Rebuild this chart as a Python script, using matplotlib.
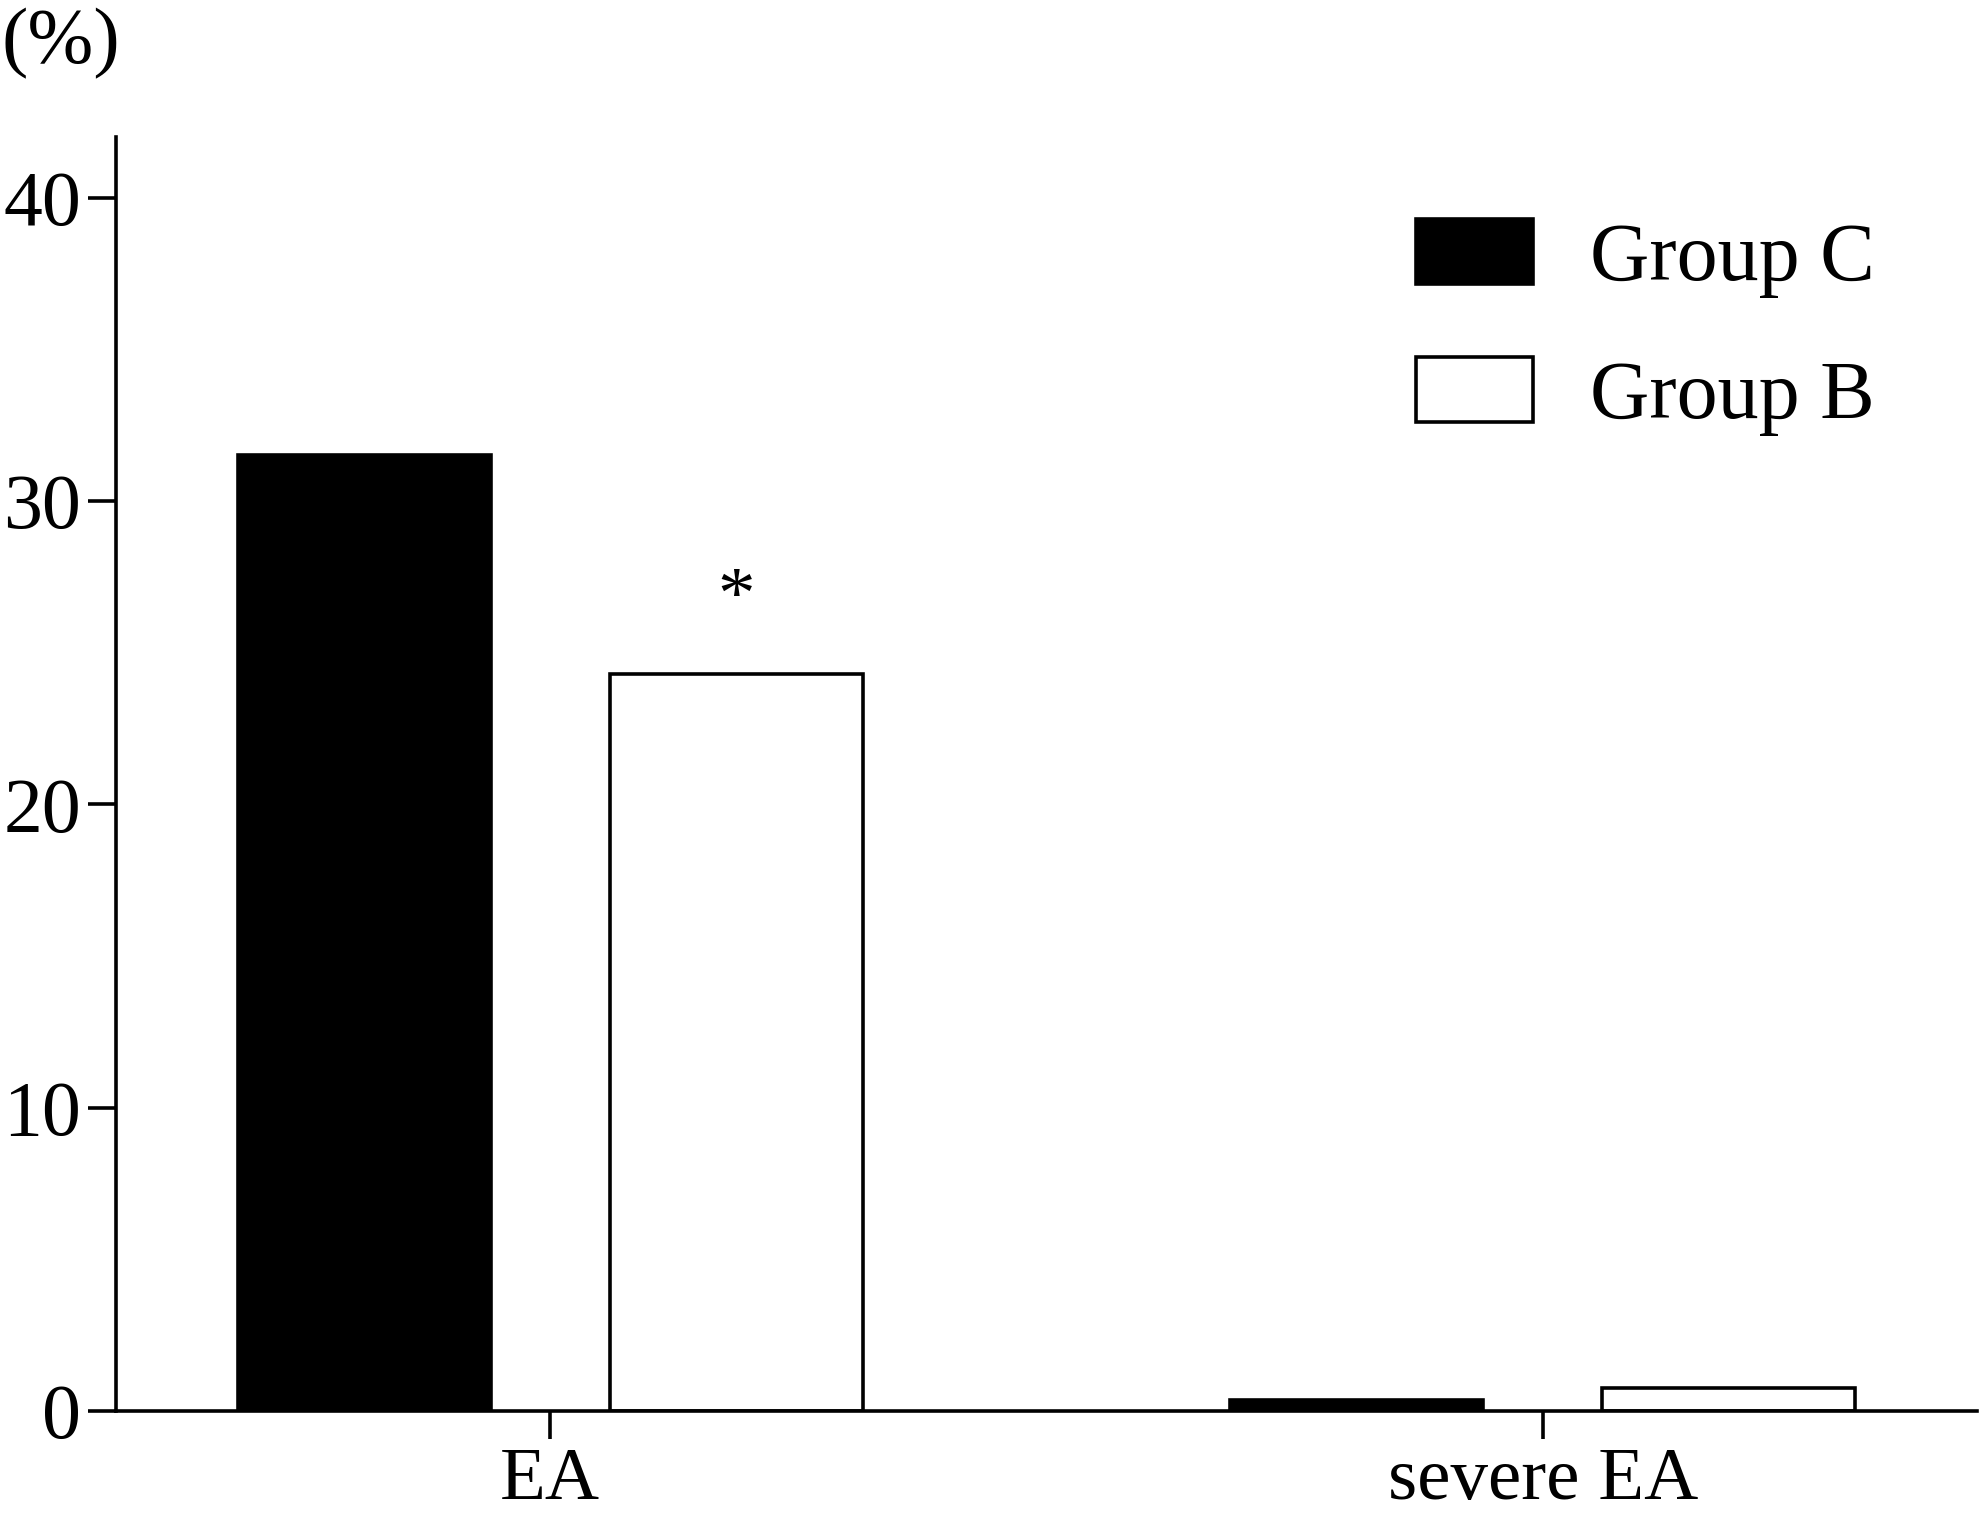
import matplotlib.pyplot as plt
import numpy as np

categories = ["EA", "severe EA"]
group_c = [31.5, 0.35]
group_b = [24.3, 0.75]
series_names = ["Group C", "Group B"]
y_ticks = [0, 10, 20, 30, 40]

plt.rcParams['font.family'] = ['Liberation Serif', 'DejaVu Serif']

fig = plt.figure(figsize=(19.83, 15.2), dpi=100)
ax = fig.add_axes([0.0585, 0.0717, 0.9385, 0.8382])

x = np.arange(len(categories))
width = 0.255
off = 0.1875
lw = 2.6
ax.bar(x - off, group_c, width, color="black", edgecolor="black",
       linewidth=lw, label=series_names[0])
ax.bar(x + off, group_b, width, color="white", edgecolor="black",
       linewidth=lw, label=series_names[1])

# significance mark over group B, EA
ax.text(x[0] + off, group_b[0] + 1.85, "*", ha="center", va="baseline",
        fontsize=54)

ax.set_xlim(-0.4375, 1.4375)
ax.set_ylim(0, 42)
ax.set_yticks(y_ticks)
ax.set_xticks(x)
ax.set_xticklabels(categories)

for side in ["top", "right"]:
    ax.spines[side].set_visible(False)
for side in ["left", "bottom"]:
    ax.spines[side].set_linewidth(lw)
ax.tick_params(axis="y", length=20, width=lw, labelsize=56, pad=5)
ax.tick_params(axis="x", length=20, width=lw, labelsize=54, pad=6)

ax.legend(loc="upper left", bbox_to_anchor=(0.714, 0.856),
          bbox_transform=fig.transFigure, frameon=False, fontsize=59,
          handlelength=1.43, handleheight=0.85, handletextpad=0.7,
          labelspacing=0.72, borderpad=0, borderaxespad=0)

fig.text(0.001, 0.959, "(%)", fontsize=57, ha="left", va="baseline")

plt.savefig("out.png", dpi=100)
